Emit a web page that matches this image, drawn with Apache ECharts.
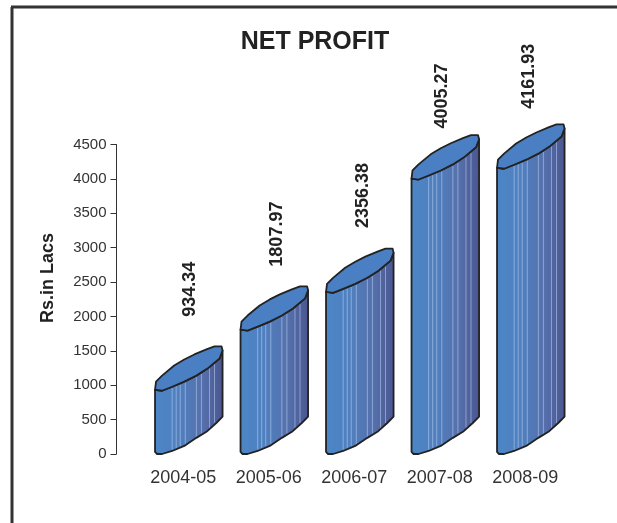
<!DOCTYPE html>
<html>
<head>
<meta charset="utf-8">
<style>html,body{margin:0;padding:0;background:#fff}#c{width:617px;height:523px}</style>
<script src="https://cdn.jsdelivr.net/npm/echarts@6/dist/echarts.min.js"></script>
</head>
<body>
<div id="c"></div>
<script>
const categories = ['2004-05', '2005-06', '2006-07', '2007-08', '2008-09'];
const netProfit = [934.34, 1807.97, 2356.38, 4005.27, 4161.93];
const yTicks = [0, 500, 1000, 1500, 2000, 2500, 3000, 3500, 4000, 4500];
// label placement above each cylinder, in pixels
const labelGap = [73, 63, 64, 50, 59];
const labelShift = [35, 37, 37, 31, 32];

// Cylinder outline, in fractions of the cylinder's width
const W = 67;
const topBack = [[0,0],[1,-8],[7,-14],[19,-24],[29,-30],[39,-35],[51,-40],[59,-43],[66,-43],[67,-39]];
const topFront = [[67,-39],[64,-31],[52,-21],[41,-14],[29,-8],[17,-3],[7,1],[0,0]];
const baseEdge = [[0,-2],[2,0],[7,0],[17,-3],[29,-8],[41,-16],[51,-22],[61,-31],[67,-37]];
const stripes = [17, 21, 25, 30, 41, 46, 54, 59];

function edgeY(edge, x) {
  const e = edge.slice().sort((a, b) => a[0] - b[0]);
  for (let i = 1; i < e.length; i++) {
    if (x <= e[i][0]) {
      const t = (x - e[i-1][0]) / ((e[i][0] - e[i-1][0]) || 1);
      return e[i-1][1] + t * (e[i][1] - e[i-1][1]);
    }
  }
  return e[e.length-1][1];
}

const chart = echarts.init(document.getElementById('c'), null, {renderer: 'canvas'});
const font = '"Liberation Sans", Arial, sans-serif';
const ink = '#222';

function renderCylinder(params, api) {
  const i = api.value(0);
  const p = api.coord([i, api.value(1)]);
  const base = api.coord([i, 0]);
  const band = api.size([1, 0])[0];
  const k = (band * 0.79) / W;
  const x0 = p[0] - 28 * k;
  const toTop = pt => [x0 + pt[0] * k, p[1] + pt[1] * k];
  const toBase = pt => [x0 + pt[0] * k, base[1] + pt[1] * k];

  const body = [toTop([0,0])]
    .concat(baseEdge.map(toBase))
    .concat(topBack.slice(-1).map(toTop))
    .concat(topFront.map(toTop));

  const children = [{
    type: 'polygon',
    shape: {points: body},
    style: {
      fill: new echarts.graphic.LinearGradient(0, 0, 1, 0, [
        {offset: 0, color: '#4b86c6'},
        {offset: 0.35, color: '#5080c0'},
        {offset: 0.7, color: '#5570ac'},
        {offset: 1, color: '#4a5590'}
      ]),
      stroke: ink, lineWidth: 1.8, lineJoin: 'round'
    }
  }];
  stripes.forEach(sx => {
    children.push({
      type: 'line',
      shape: {
        x1: x0 + sx * k, y1: p[1] + edgeY(topFront, sx) * k + 1.5,
        x2: x0 + sx * k, y2: base[1] + edgeY(baseEdge, sx) * k - 1.5
      },
      style: {stroke: 'rgba(190,210,240,0.55)', lineWidth: 1}
    });
  });
  children.push({
    type: 'polygon',
    shape: {points: topBack.concat(topFront).map(toTop)},
    style: {fill: '#4a80c3', stroke: ink, lineWidth: 1.8, lineJoin: 'round'}
  });
  children.push({
    type: 'text',
    x: x0 + labelShift[i],
    y: p[1] - labelGap[i],
    rotation: Math.PI / 2,
    style: {
      text: netProfit[i].toFixed(2),
      font: 'bold 18px ' + font,
      fill: '#222',
      align: 'left',
      verticalAlign: 'middle'
    }
  });
  return {type: 'group', children};
}

chart.setOption({
  animation: false,
  backgroundColor: '#fff',
  title: {
    text: 'NET PROFIT',
    left: 310, top: 25, textAlign: 'center',
    textStyle: {fontFamily: font, fontSize: 25, fontWeight: 'bold', color: '#222'}
  },
  grid: {left: 140.5, width: 427.5, top: 144.5, height: 309.5},
  xAxis: {
    type: 'category',
    data: categories,
    axisLine: {show: false},
    axisTick: {show: false},
    axisLabel: {fontFamily: font, fontSize: 18, color: '#333', margin: 15, interval: 0, hideOverlap: false}
  },
  yAxis: {
    type: 'value',
    min: yTicks[0],
    max: yTicks[yTicks.length - 1],
    interval: yTicks[1] - yTicks[0],
    offset: 24,
    splitLine: {show: false},
    axisLine: {show: true, lineStyle: {color: '#333', width: 1}},
    axisTick: {show: true, length: 6, lineStyle: {color: '#333', width: 1}},
    axisLabel: {fontFamily: font, fontSize: 15, color: '#333', margin: 10, formatter: v => String(v)}
  },
  graphic: [
    {type: 'line', silent: true, shape: {x1: 12, y1: 7, x2: 12, y2: 523}, style: {stroke: '#333', lineWidth: 3}},
    {type: 'line', silent: true, shape: {x1: 11, y1: 7, x2: 617, y2: 7}, style: {stroke: '#333', lineWidth: 3}},
    {type: 'text', silent: true, x: 48, y: 278, rotation: Math.PI / 2,
     style: {text: 'Rs.in Lacs', font: 'bold 18px ' + font, fill: '#222', align: 'center', verticalAlign: 'middle'}}
  ],
  series: [{
    type: 'custom',
    clip: false,
    renderItem: renderCylinder,
    encode: {x: 0, y: 1},
    data: netProfit.map((v, i) => [i, v])
  }]
});
</script>
</body>
</html>
